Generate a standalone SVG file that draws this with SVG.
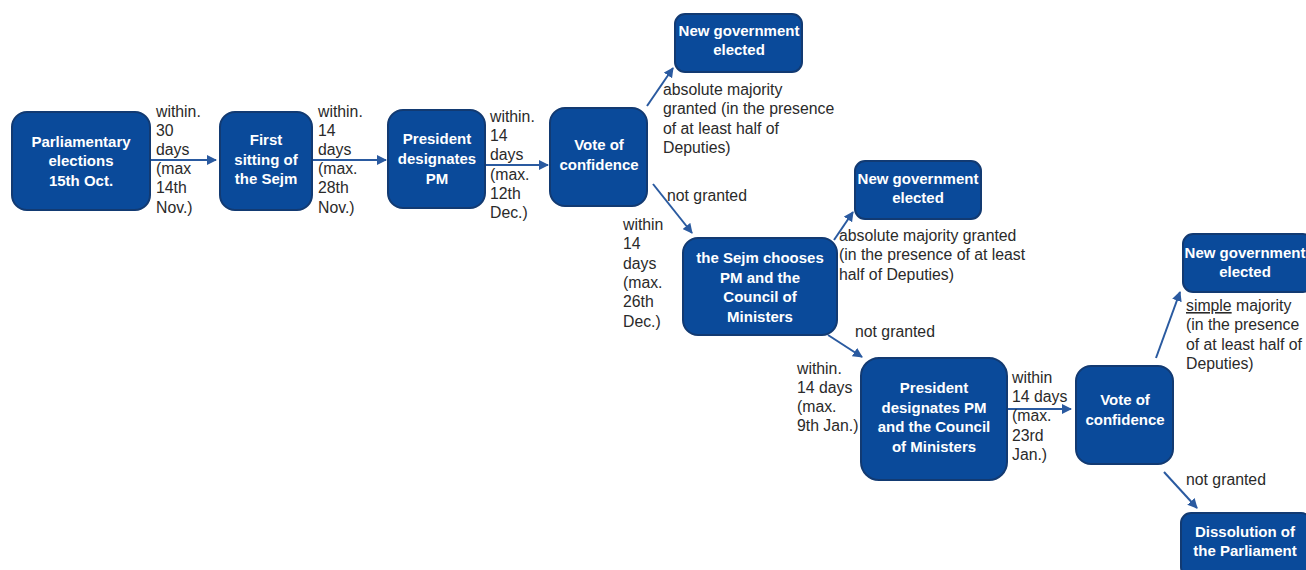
<svg xmlns="http://www.w3.org/2000/svg" width="1306" height="570" viewBox="0 0 1306 570">
<style>
.box{fill:#0a4a9a;stroke:#123a72;stroke-width:2}
.nt{font-family:"Liberation Sans",Arial,sans-serif;font-size:15px;font-weight:bold;fill:#fff;text-anchor:middle}
.lb{font-family:"Liberation Sans",Arial,sans-serif;font-size:15.8px;fill:#2a2a2a}
.cn{stroke:#2a5aa0;stroke-width:2;fill:none;marker-end:url(#ah)}
</style>
<defs>
<marker id="ah" viewBox="0 0 10 10" refX="9" refY="5" markerWidth="5" markerHeight="5" orient="auto" markerUnits="strokeWidth">
<path d="M0,0 L10,5 L0,10 z" fill="#2a5aa0"/>
</marker>
</defs>
<g id="connectors">
<line class="cn" x1="150" y1="160" x2="216" y2="160"/>
<line class="cn" x1="312" y1="160" x2="386" y2="160"/>
<line class="cn" x1="485" y1="165" x2="548" y2="165"/>
<line class="cn" x1="647" y1="106" x2="673" y2="68"/>
<line class="cn" x1="653" y1="184" x2="692" y2="233"/>
<line class="cn" x1="834" y1="240" x2="853" y2="212"/>
<line class="cn" x1="828" y1="335" x2="862" y2="357"/>
<line class="cn" x1="1007" y1="409" x2="1071" y2="409"/>
<line class="cn" x1="1156" y1="358" x2="1180" y2="292"/>
<line class="cn" x1="1164" y1="472" x2="1197" y2="508"/>
</g>
<g id="n1"><rect class="box" x="12" y="112" width="138" height="98" rx="15"/>
<text class="nt" x="81" y="147">Parliamentary</text><text class="nt" x="81" y="166">elections</text><text class="nt" x="81" y="186">15th Oct.</text></g>
<g id="n2"><rect class="box" x="220" y="112" width="92" height="98" rx="15"/>
<text class="nt" x="266" y="145">First</text><text class="nt" x="266" y="165">sitting of</text><text class="nt" x="266" y="184">the Sejm</text></g>
<g id="n3"><rect class="box" x="388" y="110" width="97" height="98" rx="15"/>
<text class="nt" x="437" y="144">President</text><text class="nt" x="437" y="164">designates</text><text class="nt" x="437" y="184">PM</text></g>
<g id="n4"><rect class="box" x="550" y="108" width="97" height="98" rx="15"/>
<text class="nt" x="599" y="150">Vote of</text><text class="nt" x="599" y="170">confidence</text></g>
<g id="n5"><rect class="box" x="675" y="14" width="127" height="58" rx="10"/>
<text class="nt" x="739" y="36">New government</text><text class="nt" x="739" y="55">elected</text></g>
<g id="n6"><rect class="box" x="855" y="161" width="126" height="58" rx="10"/>
<text class="nt" x="918" y="184">New government</text><text class="nt" x="918" y="203">elected</text></g>
<g id="n7"><rect class="box" x="683" y="238" width="154" height="97" rx="15"/>
<text class="nt" x="760" y="263">the Sejm chooses</text><text class="nt" x="760" y="283">PM and the</text><text class="nt" x="760" y="302">Council of</text><text class="nt" x="760" y="322">Ministers</text></g>
<g id="n8"><rect class="box" x="861" y="358" width="146" height="122" rx="18"/>
<text class="nt" x="934" y="393">President</text><text class="nt" x="934" y="413">designates PM</text><text class="nt" x="934" y="432">and the Council</text><text class="nt" x="934" y="452">of Ministers</text></g>
<g id="n9"><rect class="box" x="1076" y="366" width="97" height="98" rx="15"/>
<text class="nt" x="1125" y="405">Vote of</text><text class="nt" x="1125" y="425">confidence</text></g>
<g id="n10"><rect class="box" x="1183" y="234" width="130" height="58" rx="10"/>
<text class="nt" x="1245" y="258">New government</text><text class="nt" x="1245" y="277">elected</text></g>
<g id="n11"><rect class="box" x="1181" y="513" width="130" height="64" rx="10"/>
<text class="nt" x="1245" y="537">Dissolution of</text><text class="nt" x="1245" y="556">the Parliament</text></g>
<g id="labels">
<text class="lb" x="156"><tspan x="156" y="117">within.</tspan><tspan x="156" y="136">30</tspan><tspan x="156" y="155">days</tspan><tspan x="156" y="174">(max</tspan><tspan x="156" y="193">14th</tspan><tspan x="156" y="213">Nov.)</tspan></text>
<text class="lb" x="318"><tspan x="318" y="117">within.</tspan><tspan x="318" y="136">14</tspan><tspan x="318" y="155">days</tspan><tspan x="318" y="174">(max.</tspan><tspan x="318" y="193">28th</tspan><tspan x="318" y="213">Nov.)</tspan></text>
<text class="lb" x="490"><tspan x="490" y="122">within.</tspan><tspan x="490" y="141">14</tspan><tspan x="490" y="160">days</tspan><tspan x="490" y="180">(max.</tspan><tspan x="490" y="199">12th</tspan><tspan x="490" y="218">Dec.)</tspan></text>
<text class="lb" x="663"><tspan x="663" y="95">absolute majority</tspan><tspan x="663" y="114">granted (in the presence</tspan><tspan x="663" y="134">of at least half of</tspan><tspan x="663" y="153">Deputies)</tspan></text>
<text class="lb" x="667" y="201">not granted</text>
<text class="lb" x="623"><tspan x="623" y="230">within</tspan><tspan x="623" y="249">14</tspan><tspan x="623" y="269">days</tspan><tspan x="623" y="288">(max.</tspan><tspan x="623" y="307">26th</tspan><tspan x="623" y="327">Dec.)</tspan></text>
<text class="lb" x="839"><tspan x="839" y="241">absolute majority granted</tspan><tspan x="839" y="260">(in the presence of at least</tspan><tspan x="839" y="280">half of Deputies)</tspan></text>
<text class="lb" x="855" y="337">not granted</text>
<text class="lb" x="797"><tspan x="797" y="374">within.</tspan><tspan x="797" y="393">14 days</tspan><tspan x="797" y="412">(max.</tspan><tspan x="797" y="431">9th Jan.)</tspan></text>
<text class="lb" x="1012"><tspan x="1012" y="383">within</tspan><tspan x="1012" y="402">14 days</tspan><tspan x="1012" y="421">(max.</tspan><tspan x="1012" y="441">23rd</tspan><tspan x="1012" y="460">Jan.)</tspan></text>
<text class="lb" x="1186"><tspan x="1186" y="311" text-decoration="underline">simple</tspan><tspan> majority</tspan><tspan x="1186" y="330">(in the presence</tspan><tspan x="1186" y="350">of at least half of</tspan><tspan x="1186" y="369">Deputies)</tspan></text>
<text class="lb" x="1186" y="485">not granted</text>
</g>
</svg>
